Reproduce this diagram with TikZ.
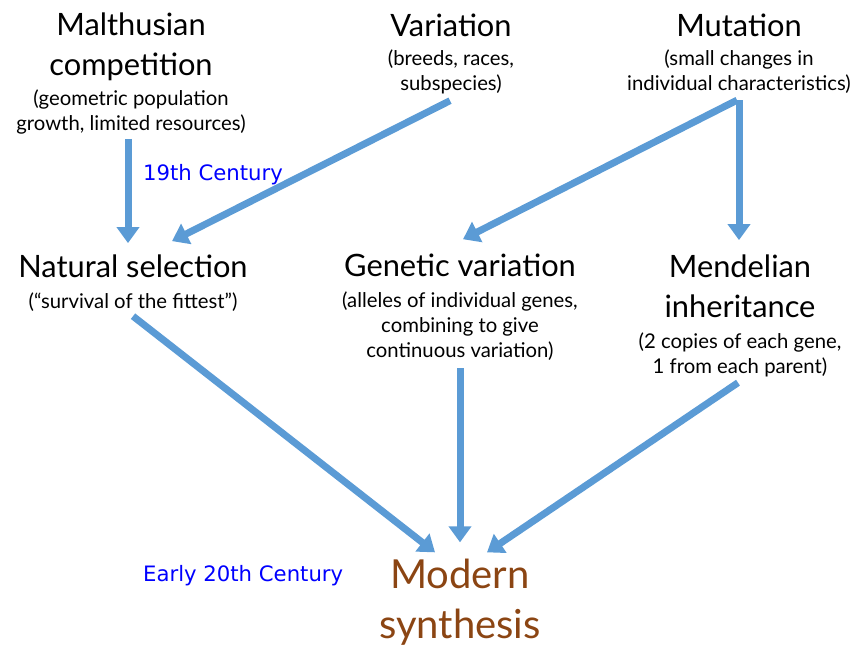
\documentclass[tikz,border=0pt]{standalone}
\usepackage{fontspec}
\setmainfont{Lato}
\newfontfamily\erafont{DejaVu Sans}
\usetikzlibrary{arrows.meta,positioning,calc}
\definecolor{flowblue}{RGB}{91,155,213}
\definecolor{synthbrown}{RGB}{139,69,19}
\tikzset{
  title/.style={font=\fontsize{30.8}{40}\selectfont,align=center,anchor=base,inner sep=0pt},
  sub/.style={font=\fontsize{20.3}{25}\selectfont,align=center,anchor=base,inner sep=0pt},
  era/.style={font=\erafont\fontsize{21.2}{24}\selectfont,text=blue,anchor=base west,inner sep=0pt},
  flow/.style={draw=flowblue,line width=7pt,-{Triangle[length=16pt,width=22pt]}}
}
\begin{document}
\begin{tikzpicture}[x=1pt,y=-1pt]
\useasboundingbox (0,0) rectangle (865,649);
% the three 19th century ideas (base = last line)
\node[title] (malthus) at (131,75) {Malthusian\\competition};
\node[sub] (malthussub) at (131,130) {(geometric population\\growth, limited resources)};
\node[title] (variation) at (451,36) {Variation};
\node[sub] (variationsub) at (451,90) {(breeds, races,\\subspecies)};
\node[title] (mutation) at (739,36) {Mutation};
\node[sub] (mutationsub) at (739,90) {(small changes in\\individual characteristics)};
% the middle row
\node[title] (natsel) at (133,277) {Natural selection};
\node[sub] (natselsub) at (133,308) {(“survival of the fittest”)};
\node[title] (genvar) at (460,276) {Genetic variation};
\node[sub] (genvarsub) at (460,357) {(alleles of individual genes,\\combining to give\\continuous variation)};
\node[title] (mendel) at (740,317) {Mendelian\\inheritance};
\node[sub] (mendelsub) at (740,373) {(2 copies of each gene,\\1 from each parent)};
% the result
\node[font=\fontsize{40}{50}\selectfont,text=synthbrown,align=center,anchor=base,inner sep=0pt] (modern) at (460,638) {Modern\\synthesis};
% the eras
\node[era] (c19) at (143,180) {19th Century};
\node[era] (c20) at (143,581) {Early 20th Century};
% the arrows
\draw[flow] ($(malthussub.south)+(-3,5)$) -- ($(natsel.north)+(-5,-11)$);
\draw[flow] ($(variationsub.south)+(-1,7)$) -- ($(natsel.north)+(39,-13)$);
\draw[flow] ($(mutationsub.south)+(-2,7)$) -- ($(genvar.north)+(3,-14)$);
\draw[flow] ($(mutationsub.south)+(0,7)$) -- ($(mendel.north)+(-1,-14)$);
\draw[flow] ($(natselsub.south)+(0,5)$) -- ($(modern.north)+(-25,-6)$);
\draw[flow] ($(genvarsub.south)+(0,8)$) -- ($(modern.north)+(0,-16)$);
\draw[flow] ($(mendelsub.south)+(-2,6)$) -- ($(modern.north)+(27,-6)$);
\end{tikzpicture}
\end{document}
